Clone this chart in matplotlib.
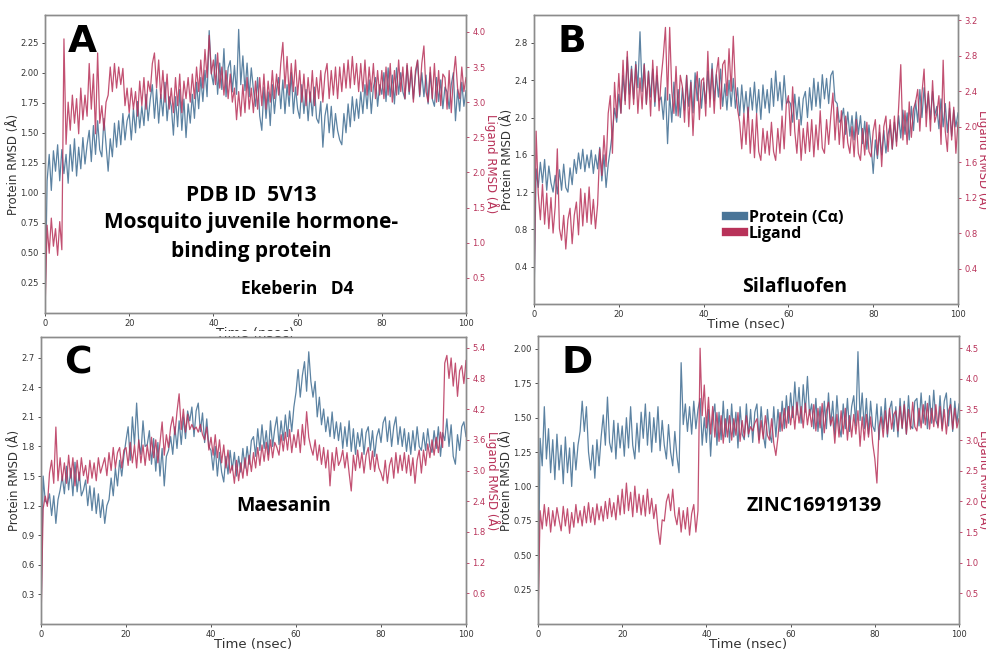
import numpy as np
import matplotlib
matplotlib.use('Agg')
import matplotlib.pyplot as plt
from matplotlib.ticker import FormatStrFormatter
from matplotlib.lines import Line2D
from matplotlib.patches import Rectangle

# ---- data: RMSD traces, one value every 0.5 nsec ----
protA = [0.00, 1.10, 1.32, 1.02, 1.35, 1.18, 1.40, 1.10, 1.36, 1.16,
         1.32, 1.08, 1.40, 1.18, 1.45, 1.14, 1.38, 1.20, 1.46, 1.24,
         1.40, 1.52, 1.26, 1.56, 1.32, 1.60, 1.36, 1.30, 1.62, 1.40,
         1.18, 1.45, 1.30, 1.58, 1.38, 1.60, 1.40, 1.66, 1.44, 1.60,
         1.66, 1.44, 1.70, 1.50, 1.76, 1.54, 1.72, 1.56, 1.82, 1.60,
         1.78, 1.90, 1.62, 1.86, 1.58, 1.82, 1.64, 1.92, 1.60, 1.80,
         1.72, 1.48, 1.80, 1.55, 1.86, 1.52, 1.78, 1.46, 1.74, 1.58,
         1.82, 1.62, 1.92, 1.70, 1.96, 1.76, 2.02, 1.80, 2.35, 2.00,
         1.90, 2.15, 1.82, 2.08, 1.86, 2.20, 1.80, 2.04, 2.10, 1.84,
         2.06, 1.82, 2.36, 1.90, 2.14, 1.85, 2.08, 1.80, 2.04, 1.86,
         1.72, 1.96, 1.64, 1.52, 1.88, 1.62, 1.84, 1.56, 1.90, 1.66,
         1.86, 1.96, 1.70, 1.94, 1.66, 1.90, 1.72, 2.00, 1.66, 1.88,
         1.70, 1.62, 1.90, 1.66, 1.86, 1.60, 1.84, 1.64, 1.88, 1.62,
         1.58, 1.76, 1.38, 1.64, 1.74, 1.50, 1.72, 1.46, 1.66, 1.52,
         1.44, 1.40, 1.66, 1.50, 1.74, 1.55, 1.80, 1.60, 1.78, 1.62,
         1.84, 1.66, 1.90, 1.70, 1.94, 1.66, 1.88, 1.96, 1.72, 1.90,
         1.82, 2.00, 1.76, 2.04, 1.80, 1.98, 1.74, 2.04, 1.82, 2.00,
         1.84, 1.78, 2.06, 1.82, 2.02, 1.78, 1.98, 2.10, 1.80, 2.00,
         1.80, 1.98, 1.74, 2.00, 1.78, 1.72, 1.96, 1.76, 1.94, 1.70,
         1.88, 1.84, 1.70, 1.90, 2.00, 1.60, 1.86, 1.68, 1.92, 1.72,
         1.85]
ligA = [0.00, 1.25, 0.85, 1.35, 0.95, 1.20, 0.82, 1.30, 0.90, 3.90,
        2.40, 3.00, 2.60, 3.10, 2.70, 3.05, 2.55, 3.20, 2.75, 3.10,
        2.80, 3.55, 2.90, 3.40, 2.55, 3.70, 2.70, 2.95, 2.60, 3.00,
        3.10, 3.50, 3.15, 3.55, 3.20, 3.50, 3.25, 3.48, 2.95, 3.20,
        2.85, 3.20, 2.90, 3.15, 2.80, 3.30, 2.95, 3.35, 2.90, 3.30,
        3.15, 3.55, 3.70, 3.20, 3.60, 3.05, 3.45, 3.00, 3.40, 2.90,
        3.20, 2.85, 3.35, 2.95, 3.40, 2.85, 3.30, 3.05, 3.35, 3.00,
        3.40, 3.05, 3.50, 3.15, 3.60, 3.20, 3.75, 3.35, 3.95, 3.40,
        3.60, 3.25, 3.70, 3.20, 3.50, 3.10, 3.45, 3.05, 3.40, 3.00,
        3.20, 2.75, 3.15, 2.80, 3.25, 2.85, 3.35, 2.90, 3.20, 2.85,
        3.30, 2.90, 3.35, 2.95, 3.40, 2.90, 3.30, 3.00, 3.45, 3.05,
        3.40, 3.10, 3.55, 3.85, 3.20, 3.65, 3.10, 3.55, 3.15, 3.60,
        3.10, 3.45, 3.00, 3.40, 2.95, 3.35, 3.00, 3.45, 2.95, 3.35,
        3.05, 3.45, 3.00, 3.40, 3.55, 3.05, 3.45, 3.10, 3.50, 3.05,
        3.50, 3.15, 3.55, 3.20, 3.60, 3.20, 3.65, 3.25, 3.55, 3.15,
        3.55, 3.15, 3.60, 3.10, 3.50, 3.15, 3.55, 3.05, 3.45, 3.10,
        3.45, 3.05, 3.50, 3.10, 3.55, 3.00, 3.45, 3.10, 3.60, 3.15,
        3.50, 3.05, 3.55, 3.15, 3.50, 3.00, 3.45, 3.60, 3.10, 3.55,
        3.80, 3.15, 3.00, 3.50, 3.05, 3.55, 3.00, 3.45, 2.95, 3.40,
        3.35, 2.90, 3.45, 2.85, 3.35, 3.65, 3.20, 3.05, 3.50, 3.15,
        3.35]

protB = [0.00, 1.45, 1.25, 1.52, 1.30, 1.55, 1.22, 1.48, 1.30, 1.20,
         1.38, 1.18, 1.44, 1.22, 1.50, 1.25, 1.20, 1.46, 1.28, 1.55,
         1.40, 1.62, 1.45, 1.66, 1.42, 1.60, 1.46, 1.65, 1.40, 1.60,
         1.45, 1.68, 1.32, 1.60, 1.25, 1.50, 1.66, 1.85, 2.10, 1.95,
         2.25, 2.05, 2.45, 2.18, 2.65, 2.25, 2.55, 2.20, 2.60, 2.32,
         2.92, 2.28, 2.58, 2.15, 2.50, 2.22, 2.52, 2.12, 2.45, 2.18,
         2.22, 1.98, 2.32, 1.72, 2.25, 1.95, 2.38, 2.02, 2.30, 2.00,
         2.32, 2.08, 2.45, 2.12, 2.40, 2.05, 2.48, 2.18, 2.42, 2.10,
         2.38, 2.15, 2.50, 2.20, 2.58, 2.18, 2.46, 2.22, 2.52, 2.12,
         2.36, 2.08, 2.40, 2.12, 2.42, 2.10, 2.32, 2.02, 2.35, 2.05,
         2.28, 2.00, 2.32, 2.08, 2.38, 2.05, 2.30, 1.98, 2.35, 2.10,
         2.30, 2.05, 2.42, 2.12, 2.50, 2.18, 2.38, 2.08, 2.45, 2.15,
         2.18, 2.15, 1.95, 2.25, 1.98, 2.22, 1.92, 2.20, 2.28, 2.00,
         2.32, 2.08, 2.42, 2.12, 2.38, 2.10, 2.46, 2.20, 2.42, 2.15,
         2.45, 2.50, 2.18, 2.15, 1.95, 1.98, 2.10, 1.82, 2.06, 1.80,
         2.02, 1.76, 2.06, 1.82, 2.02, 1.72, 1.96, 1.66, 1.92, 1.70,
         1.40, 1.76, 1.56, 1.84, 1.60, 1.86, 1.62, 1.82, 1.92, 1.66,
         1.95, 1.74, 2.02, 1.78, 2.08, 1.82, 2.05, 1.76, 2.12, 1.86,
         2.18, 1.95, 2.30, 2.00, 2.32, 2.05, 2.26, 1.98, 2.28, 2.02,
         2.12, 1.88, 2.20, 1.90, 2.15, 1.84, 2.10, 1.80, 2.08, 1.90,
         2.05]
ligB = [0.00, 1.95, 1.25, 0.95, 1.35, 0.90, 1.25, 0.85, 1.20, 0.80,
        1.10, 1.75, 0.85, 0.72, 1.00, 0.62, 0.95, 1.08, 0.68, 1.00,
        1.15, 0.78, 1.30, 0.88, 1.25, 0.92, 1.32, 0.90, 1.18, 0.85,
        1.12, 1.75, 1.45, 1.90, 1.55, 2.15, 2.35, 1.70, 2.50, 2.10,
        2.60, 2.15, 2.75, 2.25, 2.85, 2.20, 2.65, 2.25, 2.70, 2.15,
        2.55, 2.20, 2.70, 2.25, 2.62, 2.12, 2.75, 2.28, 2.68, 2.18,
        2.55, 2.80, 3.12, 2.30, 3.12, 2.40, 2.15, 2.68, 2.12, 2.58,
        2.45, 2.05, 2.58, 2.00, 2.50, 1.90, 2.42, 2.62, 2.08, 2.52,
        2.55, 2.12, 2.85, 2.22, 2.65, 2.15, 2.60, 2.78, 2.20, 2.70,
        2.75, 2.35, 2.88, 2.40, 3.02, 2.45, 2.20, 2.05, 1.75, 2.15,
        1.80, 2.22, 1.70, 2.08, 1.65, 2.15, 1.72, 1.62, 1.98, 1.70,
        1.95, 1.68, 2.05, 1.72, 1.62, 1.98, 1.70, 2.12, 1.75, 2.25,
        2.35, 1.90, 2.45, 1.95, 1.70, 2.08, 1.62, 1.98, 1.70, 2.05,
        1.72, 2.08, 1.66, 2.02, 1.74, 2.18, 1.76, 1.70, 2.08, 1.80,
        2.12, 2.38, 1.85, 2.22, 1.80, 2.18, 1.76, 2.12, 1.82, 1.70,
        2.00, 1.66, 2.08, 1.70, 1.62, 1.98, 1.68, 2.05, 1.72, 1.66,
        1.95, 2.08, 1.68, 2.02, 1.55, 2.00, 2.12, 1.72, 2.08, 1.75,
        2.12, 1.78, 2.22, 2.70, 1.85, 2.18, 1.80, 2.28, 1.88, 2.20,
        2.28, 2.42, 1.95, 2.38, 2.65, 2.00, 2.40, 1.95, 2.52, 2.05,
        2.15, 2.35, 1.80, 2.75, 1.95, 1.72, 2.28, 1.85, 2.22, 1.70,
        2.05]

protC = [0.00, 1.50, 1.25, 1.22, 1.32, 1.10, 1.30, 1.02, 1.26, 1.36,
         1.50, 1.32, 1.60, 1.36, 1.58, 1.30, 1.64, 1.34, 1.54, 1.30,
         1.36, 1.46, 1.20, 1.40, 1.15, 1.38, 1.12, 1.32, 1.08, 1.26,
         1.02, 1.20, 1.26, 1.48, 1.30, 1.58, 1.40, 1.66, 1.50, 1.70,
         1.86, 2.00, 1.66, 2.10, 1.82, 2.24, 1.85, 1.72, 2.06, 1.80,
         1.82, 1.96, 1.62, 1.88, 1.55, 1.84, 1.50, 1.78, 1.40, 1.70,
         1.76, 1.90, 1.72, 2.00, 1.78, 2.06, 1.82, 2.10, 1.88, 2.16,
         2.06, 2.20, 1.90, 2.16, 2.24, 1.95, 2.14, 1.84, 2.08, 1.80,
         1.76, 1.56, 1.80, 1.50, 1.74, 1.54, 1.44, 1.70, 1.52, 1.76,
         1.56, 1.74, 1.50, 1.70, 1.54, 1.78, 1.58, 1.80, 1.62, 1.86,
         1.90, 1.70, 1.98, 1.76, 2.02, 1.78, 1.96, 1.72, 2.06, 1.80,
         1.98, 2.10, 1.82, 2.06, 1.86, 2.12, 1.90, 2.16, 1.95, 2.20,
         2.35, 2.58, 2.30, 2.52, 2.66, 2.36, 2.76, 2.46, 2.30, 2.46,
         2.10, 2.30, 2.02, 2.18, 1.95, 2.10, 1.90, 2.15, 1.88, 2.05,
         1.86, 2.04, 1.78, 2.00, 1.80, 2.06, 1.75, 1.98, 1.72, 1.94,
         1.80, 1.98, 1.72, 1.94, 2.00, 1.76, 1.96, 1.70, 1.90, 1.98,
         1.84, 2.04, 2.10, 1.85, 2.06, 1.80, 2.00, 2.10, 1.82, 2.00,
         1.80, 1.98, 1.75, 1.94, 1.72, 1.96, 1.76, 2.00, 1.80, 1.76,
         1.94, 1.76, 1.98, 1.80, 1.74, 1.96, 1.78, 2.00, 1.70, 1.94,
         1.86, 2.08, 1.80, 2.02, 1.70, 1.62, 1.92, 1.76, 2.00, 2.05,
         1.90]
ligC = [0.00, 2.25, 2.50, 2.30, 2.95, 3.20, 2.75, 3.85, 2.80, 3.25,
        2.80, 3.15, 2.75, 3.30, 2.85, 3.25, 2.70, 3.20, 2.80, 3.25,
        2.90, 3.10, 2.75, 3.20, 2.85, 3.15, 2.80, 3.25, 2.95, 3.10,
        3.25, 2.90, 3.35, 3.00, 3.45, 3.05, 3.35, 3.45, 3.05, 3.40,
        3.45, 3.10, 3.55, 3.15, 3.50, 3.05, 3.60, 3.15, 3.50, 3.10,
        3.50, 3.20, 3.65, 3.25, 3.60, 3.15, 3.55, 3.95, 3.30, 3.70,
        3.45, 3.85, 4.05, 3.70, 4.15, 4.50, 3.80, 4.20, 3.75, 4.10,
        3.80, 3.90, 3.80, 3.85, 3.75, 3.90, 3.70, 3.60, 3.85, 3.40,
        3.65, 3.30, 3.70, 3.25, 3.60, 3.15, 3.50, 3.05, 3.40, 2.95,
        3.10, 2.75, 3.20, 2.80, 3.15, 2.85, 3.25, 2.90, 3.30, 2.98,
        3.35, 3.05, 3.45, 3.10, 3.50, 3.18, 3.55, 3.20, 3.60, 3.25,
        3.55, 3.45, 3.30, 3.70, 3.38, 3.75, 3.40, 3.80, 3.35, 3.70,
        3.45, 3.80, 3.35, 3.90, 3.50, 4.15, 3.65, 3.45, 3.30, 3.60,
        3.20, 3.50, 3.12, 3.45, 3.05, 3.40, 2.70, 3.35, 3.00, 3.45,
        3.10, 3.20, 3.40, 3.05, 3.35, 2.95, 2.60, 3.30, 3.00, 3.40,
        3.05, 3.35, 2.95, 3.30, 3.45, 3.02, 3.38, 2.98, 3.32, 3.05,
        2.95, 2.80, 3.20, 2.75, 3.10, 3.25, 2.85, 3.35, 2.95, 3.30,
        3.00, 3.35, 2.95, 3.30, 2.90, 3.25, 2.75, 3.20, 3.40, 2.95,
        3.40, 3.10, 3.52, 3.25, 3.60, 3.30, 3.65, 3.35, 3.75, 3.45,
        5.10, 5.25, 4.80, 5.20, 4.65, 5.10, 4.45, 4.95, 5.05, 4.70,
        5.15]

protD = [0.00, 1.35, 1.15, 1.58, 1.20, 1.42, 1.10, 1.34, 1.05, 1.38,
         1.12, 1.30, 1.02, 1.36, 1.10, 1.28, 1.00, 1.32, 1.12, 1.30,
         1.40, 1.62, 1.40, 1.58, 1.25, 1.12, 1.30, 1.06, 1.34, 1.15,
         1.36, 1.52, 1.30, 1.65, 1.32, 1.25, 1.48, 1.20, 1.46, 1.28,
         1.44, 1.22, 1.50, 1.28, 1.58, 1.30, 1.20, 1.46, 1.25, 1.54,
         1.35, 1.60, 1.30, 1.54, 1.25, 1.50, 1.32, 1.58, 1.26, 1.48,
         1.30, 1.20, 1.45, 1.25, 1.15, 1.40, 1.22, 1.10, 1.90, 1.45,
         1.60, 1.40, 1.58, 1.38, 1.62, 1.42, 1.56, 1.64, 1.30, 1.50,
         1.32, 1.56, 1.22, 1.50, 1.60, 1.30, 1.54, 1.34, 1.62, 1.36,
         1.56, 1.32, 1.60, 1.36, 1.54, 1.28, 1.58, 1.38, 1.34, 1.60,
         1.36, 1.56, 1.32, 1.54, 1.60, 1.34, 1.58, 1.38, 1.28, 1.56,
         1.38, 1.32, 1.58, 1.36, 1.56, 1.40, 1.62, 1.42, 1.66, 1.46,
         1.68, 1.50, 1.76, 1.52, 1.72, 1.46, 1.74, 1.54, 1.80, 1.52,
         1.60, 1.42, 1.64, 1.40, 1.58, 1.34, 1.62, 1.42, 1.68, 1.44,
         1.62, 1.38, 1.66, 1.44, 1.36, 1.60, 1.42, 1.64, 1.40, 1.58,
         1.66, 1.44, 1.98, 1.48, 1.68, 1.42, 1.64, 1.38, 1.62, 1.44,
         1.40, 1.60, 1.34, 1.58, 1.42, 1.64, 1.36, 1.56, 1.62, 1.40,
         1.58, 1.36, 1.64, 1.42, 1.62, 1.38, 1.66, 1.44, 1.42, 1.62,
         1.64, 1.44, 1.68, 1.46, 1.62, 1.42, 1.66, 1.46, 1.70, 1.48,
         1.44, 1.66, 1.42, 1.62, 1.68, 1.44, 1.64, 1.40, 1.62, 1.46,
         1.60]
ligD = [0.00, 1.85, 1.55, 1.95, 1.60, 1.90, 1.50, 1.85, 1.60, 1.90,
        1.70, 1.52, 1.92, 1.60, 1.88, 1.48, 1.82, 1.58, 1.95, 1.65,
        1.85, 1.60, 1.92, 1.65, 1.98, 1.66, 1.90, 1.62, 1.96, 1.70,
        1.92, 1.68, 2.00, 1.72, 2.05, 1.75, 1.98, 1.70, 2.10, 1.78,
        2.20, 1.80, 2.30, 1.85, 2.15, 1.75, 2.25, 1.82, 2.12, 1.78,
        2.10, 1.76, 2.20, 1.80, 2.05, 1.72, 1.95, 1.55, 1.30, 1.70,
        1.68, 2.00, 2.12, 1.85, 2.20, 1.78, 1.62, 1.90, 1.50, 1.85,
        1.55, 1.90, 1.45, 1.80, 1.95, 1.50, 1.85, 4.50, 3.40, 3.90,
        3.20, 3.70, 3.10, 3.55, 3.05, 3.45, 2.98, 3.40, 2.95, 3.35,
        3.05, 3.40, 3.00, 3.35, 3.08, 3.45, 2.98, 3.32, 3.05, 3.40,
        3.10, 3.22, 3.15, 3.28, 3.35, 2.95, 3.32, 3.02, 3.40, 3.08,
        3.00, 3.35, 2.95, 2.75, 3.05, 3.45, 3.15, 3.52, 3.20, 3.55,
        3.25, 3.55, 3.18, 3.62, 3.28, 3.55, 3.20, 3.60, 3.25, 3.50,
        3.22, 3.58, 3.15, 3.52, 3.20, 3.60, 3.12, 3.48, 3.62, 3.25,
        3.38, 2.95, 3.42, 3.05, 3.48, 3.10, 3.52, 3.00, 3.40, 3.05,
        3.42, 3.10, 3.48, 2.90, 3.38, 3.00, 3.42, 3.05, 3.38, 2.95,
        2.70, 2.30, 3.20, 3.38, 3.05, 3.48, 3.10, 3.52, 3.18, 3.42,
        3.48, 3.15, 3.55, 3.20, 3.58, 3.10, 3.50, 3.18, 3.62, 3.22,
        3.15, 3.52, 3.20, 3.58, 3.25, 3.60, 3.18, 3.52, 3.22, 3.58,
        3.20, 3.55, 3.15, 3.50, 3.10, 3.48, 3.58, 3.18, 3.52, 3.20,
        3.35]

xticks = [0, 20, 40, 60, 80, 100]

BLUE = '#4a7598'
RED = '#b83259'
TXT = '#333333'
W, H = 987.0, 650.0


def px_axes(fig, left, top, right, bottom):
    # ... place an axes using pixel corners of the reference image ...
    return fig.add_axes([left/W, 1-bottom/H, (right-left)/W, (bottom-top)/H])


def rmsdPanel(fig, box, prot, lig, ylim1, ylim2, ticks1, ticks2, fmt1, fmt2,
              letter):
    ax = px_axes(fig, *box)
    t = np.linspace(0, 100, len(prot))
    ax.plot(t, prot, color=BLUE, lw=0.9, alpha=0.9)
    ax.set_xlim(0, 100)
    ax.set_ylim(*ylim1)
    ax.set_xticks(xticks)
    ax.set_yticks(ticks1)
    ax.yaxis.set_major_formatter(FormatStrFormatter(fmt1))
    ax.tick_params(labelsize=6, colors=TXT, length=2.5, width=0.6, pad=2)
    ax.set_ylabel('Protein RMSD (Å)', fontsize=8.5, color=TXT, labelpad=0.5)
    ax.set_xlabel('Time (nsec)', fontsize=9.5, color=TXT, labelpad=-1)

    ax2 = ax.twinx()
    ax2.plot(np.linspace(0, 100, len(lig)), lig, color=RED, lw=0.9, alpha=0.85)
    ax2.set_ylim(*ylim2)
    ax2.set_yticks(ticks2)
    ax2.yaxis.set_major_formatter(FormatStrFormatter(fmt2))
    ax2.tick_params(labelsize=6, colors=RED, length=2.5, width=0.6, pad=2)
    ax2.set_ylabel('Ligand RMSD (Å)', fontsize=8.5, color=RED,
                   rotation=270, labelpad=10)
    for a in (ax, ax2):
        for s in a.spines.values():
            s.set_color('#8c8c8c')
            s.set_linewidth(1.0)

    ax.text(0.055, 0.97, letter, transform=ax.transAxes, ha='left', va='top',
            fontsize=27, fontweight='heavy', family='DejaVu Sans', zorder=10)
    return ax, ax2


fig = plt.figure(figsize=(W/100, H/100), dpi=100)

axA, axA2 = rmsdPanel(fig, (45, 15, 466, 313), protA, ligA, (0, 2.48), (0, 4.24),
                      np.arange(0.25, 2.26, 0.25), np.arange(0.5, 4.01, 0.5),
                      '%.2f', '%.1f', 'A')
axB, axB2 = rmsdPanel(fig, (534, 15, 958, 304), protB, ligB, (0, 3.1), (0, 3.26),
                      np.arange(0.4, 2.81, 0.4), np.arange(0.4, 3.21, 0.4),
                      '%.1f', '%.1f', 'B')
axC, axC2 = rmsdPanel(fig, (41, 337, 466, 624), protC, ligC, (0, 2.91), (0, 5.61),
                      np.arange(0.3, 2.71, 0.3), np.arange(0.6, 5.41, 0.6),
                      '%.1f', '%.1f', 'C')
axD, axD2 = rmsdPanel(fig, (538, 336, 959, 624), protD, ligD, (0, 2.094), (0, 4.7),
                      np.arange(0.25, 2.01, 0.25), np.arange(0.5, 4.51, 0.5),
                      '%.2f', '%.1f', 'D')

# ... the lower panel image hides the bottom of panel A's x label ...
fig.patches.append(Rectangle((0, 1-336/H), 495/W, 5/H, transform=fig.transFigure,
                             facecolor='white', edgecolor='none', zorder=5))

# ... annotations ...
bold = dict(family='Open Sans', fontweight='bold', color='black', zorder=10)
axA2.text(0.49, 0.395, 'PDB ID  5V13', transform=axA.transAxes,
          ha='center', va='center', fontsize=15, **bold)
axA2.text(0.49, 0.305, 'Mosquito juvenile hormone-', transform=axA.transAxes,
          ha='center', va='center', fontsize=15, **bold)
axA2.text(0.49, 0.207, 'binding protein', transform=axA.transAxes,
          ha='center', va='center', fontsize=15, **bold)
axA2.text(0.6, 0.08, 'Ekeberin   D4', transform=axA.transAxes,
          ha='center', va='center', fontsize=12.5, **bold)

axB2.text(0.615, 0.06, 'Silafluofen', transform=axB.transAxes,
          ha='center', va='center', fontsize=14, **bold)
handles = [Line2D([], [], color=BLUE, lw=6), Line2D([], [], color=RED, lw=6)]
leg = axB2.legend(handles, ['Protein (Cα)', 'Ligand'], loc='center left',
                  bbox_to_anchor=(0.435, 0.27), frameon=False, handlelength=1.1,
                  handletextpad=0.3, labelspacing=0.0, borderpad=0,
                  prop=dict(family='Open Sans', weight='bold', size=11.5))

axC2.text(0.57, 0.41, 'Maesanin', transform=axC.transAxes,
          ha='center', va='center', fontsize=14, **bold)
axD2.text(0.655, 0.41, 'ZINC16919139', transform=axD.transAxes,
          ha='center', va='center', fontsize=14, **bold)

fig.savefig('out.png', dpi=100)
